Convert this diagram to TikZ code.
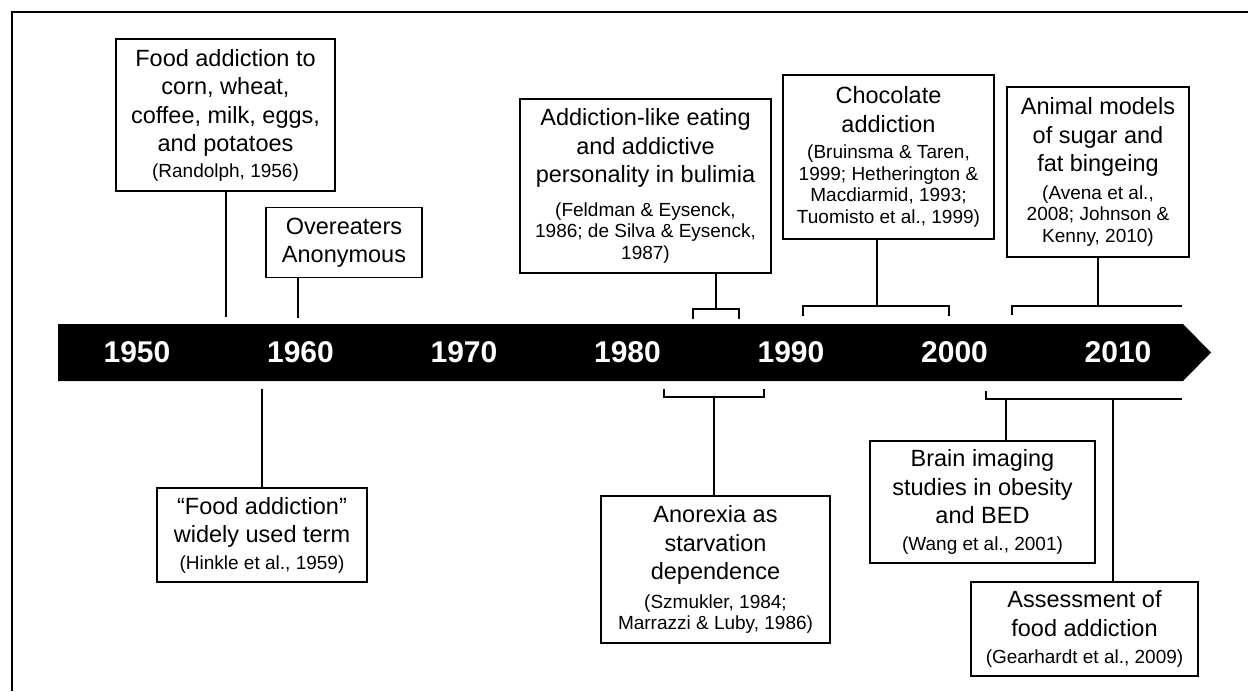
\documentclass[tikz,border=0pt]{standalone}
\usepackage{fontspec}
\setmainfont{Liberation Sans}
\newcommand\mf{\fontsize{23.5}{28.5}\selectfont\spaceskip=0pt\relax}
\newcommand\cf{\fontsize{19}{21.5}\selectfont\spaceskip=0pt\relax}
\newcommand\yf{\fontsize{30}{30}\selectfont\bfseries}
\newcommand\cit[1]{\par\vspace{#1pt}\cf}
\begin{document}
\begin{tikzpicture}[x=1pt,y=-1pt,
  box/.style n args={2}{draw, line width=1.5pt, inner sep=0pt, text width=#1pt,
    minimum width=#1pt, minimum height=#2pt, align=flush center, font=\mf},
  link/.style={line width=1.5pt},
  year/.style={text=white, font=\yf, inner sep=0pt}]
\useasboundingbox (0,0) rectangle (1248,691);
% frame
\draw[line width=2pt] (12,691) -- (12,12) -- (1248,12);
% timeline bar
\fill (58,324) -- (1183,324) -- (1211,352.5) -- (1183,381) -- (58,381) -- cycle;
\foreach \yr/\x in {1950/137,1960/300.5,1970/464,1980/627.5,1990/791,2000/954.5,2010/1118}
  \node[year] (y\yr) at (\x,352.5) {\yr};
% boxes
\node[box={219}{152}] (b1) at (225.5,115) {\mf Food addiction to\\corn, wheat,\\coffee, milk, eggs,\\and potatoes\cit{4}(Randolph, 1956)\par};
\node[box={156}{70}] (b2) at (344,242.5) {\mf Overeaters\\Anonymous\par};
\node[box={210}{94}] (b3) at (262,535) {\mf “Food addiction”\\widely used term\cit{5}(Hinkle et al., 1959)\par};
\node[box={251}{174}] (b4) at (645.5,186) {\mf Addiction-like eating\\and addictive\\personality in bulimia\cit{12}(Feldman \& Eysenck,\\1986; de Silva \& Eysenck,\\1987)\par};
\node[box={211}{164}] (b5) at (888.5,157) {\mf Chocolate\\addiction\cit{5}(Bruinsma \& Taren,\\1999; Hetherington \&\\Macdiarmid, 1993;\\Tuomisto et al., 1999)\par};
\node[box={182}{170}] (b6) at (1098,172) {\mf Animal models\\of sugar and\\fat bingeing\cit{6}(Avena et al.,\\2008; Johnson \&\\Kenny, 2010)\par};
\node[box={229}{147}] (b7) at (715.5,569.5) {\mf Anorexia as\\starvation\\dependence\cit{7}(Szmukler, 1984;\\Marrazzi \& Luby, 1986)\par};
\node[box={225}{122}] (b8) at (982.5,502) {\mf Brain imaging\\studies in obesity\\and BED\cit{5}(Wang et al., 2001)\par};
\node[box={227}{94}] (b9) at (1084.5,629) {\mf Assessment of\\food addiction\cit{6}(Gearhardt et al., 2009)\par};
% connector end points
\coordinate (t1) at (226,317);
\coordinate (t2) at (298,318);
\coordinate (t3) at (262,389);
\coordinate (t4) at (716,309); \coordinate (k4a) at (693,319); \coordinate (k4b) at (739,319);
\coordinate (t5) at (877,306); \coordinate (k5a) at (803,316); \coordinate (k5b) at (949,316);
\coordinate (t6) at (1098,306); \coordinate (k6a) at (1012,315); \coordinate (k6b) at (1182,306);
\coordinate (t7) at (714,397); \coordinate (k7a) at (664,389); \coordinate (k7b) at (764,389);
\coordinate (t8) at (1006,399); \coordinate (k8a) at (986,391); \coordinate (k8b) at (1182,399);
\coordinate (t9) at (1113,399);
% connectors
\draw[link] (b1.south -| t1) -- (t1);
\draw[link] (b2.south -| t2) -- (t2);
\draw[link] (t3) -- (b3.north -| t3);
\draw[link] (b4.south -| t4) -- (t4);
\draw[link] (k4a) -- (k4a |- t4) -- (k4b |- t4) -- (k4b);
\draw[link] (b5.south -| t5) -- (t5);
\draw[link] (k5a) -- (k5a |- t5) -- (k5b |- t5) -- (k5b);
\draw[link] (b6.south -| t6) -- (t6);
\draw[link] (k6a) -- (k6a |- t6) -- (k6b);
\draw[link] (t7) -- (b7.north -| t7);
\draw[link] (k7a) -- (k7a |- t7) -- (k7b |- t7) -- (k7b);
\draw[link] (t8) -- (b8.north -| t8);
\draw[link] (k8a) -- (k8a |- t8) -- (k8b);
\draw[link] (t9) -- (b9.north -| t9);
\end{tikzpicture}
\end{document}
